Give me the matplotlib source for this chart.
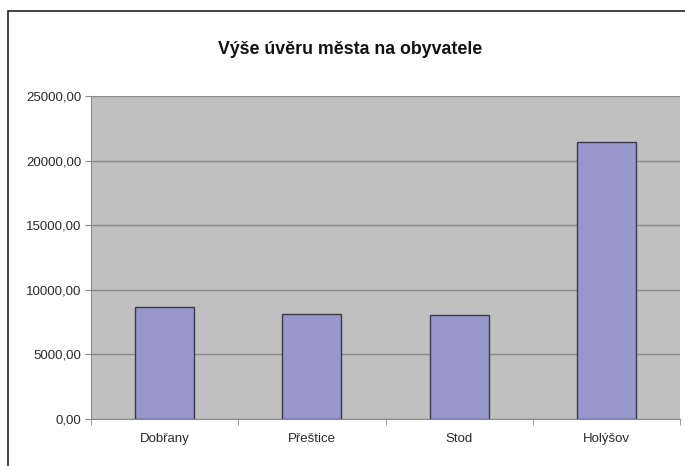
import matplotlib
matplotlib.use("Agg")
import matplotlib.pyplot as plt
from matplotlib.patches import Rectangle
from matplotlib.ticker import FuncFormatter, FixedLocator

categories = ["Dobřany", "Přeštice", "Stod", "Holýšov"]
values = [8650, 8150, 8050, 21450]
yticks = [0, 5000, 10000, 15000, 20000, 25000]
title = "Výše úvěru města na obyvatele"

plt.rcParams['font.family'] = ['Liberation Sans', 'DejaVu Sans']

fig = plt.figure(figsize=(6.85, 4.66), dpi=100)
fig.patch.set_facecolor("white")

# outer chart border (partially cropped in reference)
fig.patches.append(Rectangle((8/685, -0.1), 1.2, 1.1 - 11/466,
                             transform=fig.transFigure, fill=False,
                             edgecolor="#222222", linewidth=1.2))

ax = fig.add_axes([91/685, 1 - 419/466, (680 - 91)/685, (419 - 96)/466])
ax.set_facecolor("#c0c0c0")

x = list(range(len(categories)))
ax.bar(x, values, width=0.4, color="#9797cb", edgecolor="#3a3a4a", linewidth=1.0, zorder=3)

ax.set_xlim(-0.5, len(categories) - 0.5)
ax.set_ylim(0, 25000)
ax.set_yticks(yticks)
ax.yaxis.set_major_formatter(FuncFormatter(lambda v, p: f"{v:.2f}".replace(".", ",")))
ax.grid(axis="y", color="#8a8a8a", linewidth=1.0, zorder=1)

ax.set_xticks(x)
ax.set_xticklabels(categories)
ax.xaxis.set_minor_locator(FixedLocator([i - 0.5 for i in range(len(categories) + 1)]))
ax.tick_params(axis="x", which="major", length=0, pad=10, labelsize=9.5, labelcolor="#2a2a2a")
ax.tick_params(axis="x", which="minor", length=4, color="#8a8a8a", direction="out")
ax.tick_params(axis="y", length=4, color="#8a8a8a", pad=3, labelsize=9.5, labelcolor="#2a2a2a")

for s in ["top", "right"]:
    ax.spines[s].set_visible(False)
ax.spines["left"].set_color("#8a8a8a")
ax.spines["bottom"].set_color("#8a8a8a")

fig.text(350/685, 1 - 49/466, title, ha="center", va="center",
         fontsize=12.8, fontweight="bold", color="#111111")

fig.savefig("out.png", dpi=100, facecolor="white")
